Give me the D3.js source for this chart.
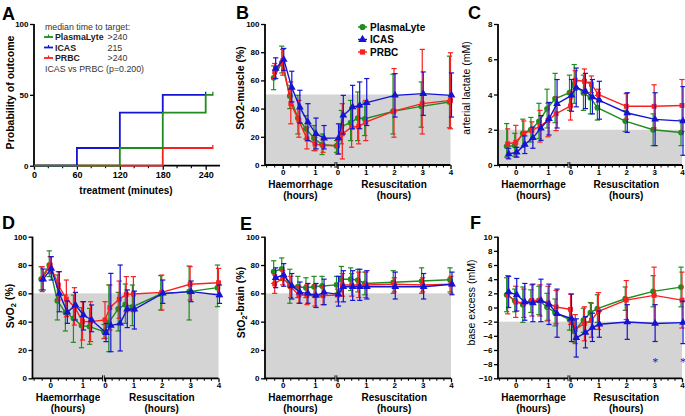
<!DOCTYPE html>
<html><head><meta charset="utf-8">
<script src="https://cdn.jsdelivr.net/npm/d3@7"></script>
<style>body{margin:0;background:#fff} svg{display:block;font-family:"Liberation Sans",Arial,sans-serif}</style>
</head><body><svg id="c" width="685" height="416"></svg>
<script>
// ---------------- DATA ----------------
const groups = ["PlasmaLyte", "ICAS", "PRBC"];
const haemTimes = [-0.25, 0, 0.25, 0.5, 0.75, 1, 1.25];
const resusTimes = [0, 0.17, 0.5, 0.75, 1, 2, 3, 4];
const haemTicks = [0, 1];
const resusTicks = [0, 1, 2, 3, 4];

// Panel A: Kaplan-Meier (treatment minutes vs probability %)
const km_PlasmaLyte_t = [0, 120, 180, 240, 250];
const km_PlasmaLyte_p = [0, 12.5, 37.5, 50, 50];
const km_ICAS_t = [0, 60, 120, 180, 240];
const km_ICAS_p = [0, 12.5, 37.5, 50, 50];
const km_PRBC_t = [0, 180, 250];
const km_PRBC_p = [0, 12.5, 12.5];
const medianTimes = [">240", "215", ">240"];
const kmXTicks = [0, 60, 120, 180, 240];
const kmYTicks = [0, 50, 100];

// Panel B: StO2-muscle (%)
const muscle_PlasmaLyte = [61.8, 72.4, 49, 33.3, 25.7, 19, 14.5, 13.5, 27.3, 30, 33.3, 32.8, 38, 41.6, 44.7];
const muscle_PlasmaLyte_lo = [53.4, 65.3, 40, 22, 18.5, 10.2, 7.4, 9, 15, 17.3, 17.3, 20.9, 22, 26.8, 26.4];
const muscle_PlasmaLyte_hi = [70.3, 84.3, 56.5, 49.4, 35, 28, 22, 17.3, 38.7, 45.8, 51.8, 44.7, 64.4, 58.9, 77.2];
const muscle_ICAS = [68.4, 74.8, 54.9, 40.9, 30.4, 22.1, 19, 19.2, 35.2, 41.1, 42.3, 44.2, 49.4, 50.6, 49.4];
const muscle_ICAS_lo = [61.3, 67.2, 44.7, 29.7, 17.3, 11.4, 11.4, 7.8, 22, 25.7, 25.7, 28, 34, 35.2, 34];
const muscle_ICAS_hi = [76, 82.7, 66.5, 53, 43.5, 33.3, 28, 29.2, 49.4, 56.5, 58.9, 61.3, 64.8, 66, 65.3];
const muscle_PRBC = [66, 73.9, 43.5, 31.6, 18.5, 15, 13.8, 13.8, 22.1, 26.8, 27.3, 30.4, 38.2, 43.5, 45.8];
const muscle_PRBC_lo = [61.3, 63.7, 29.2, 19.7, 11.4, 10.2, 9, 7.8, 4.3, 12.6, 15, 17.3, 19.7, 22, 25.7];
const muscle_PRBC_hi = [72, 82, 58.9, 45.8, 26.8, 19.7, 18.5, 17.3, 43.5, 41, 41, 45.8, 68.4, 82, 79.6];

// Panel C: arterial lactate (mM)
const lactate_PlasmaLyte = [1.06, 1.1, 1.8, 2.0, 2.47, 3.19, 3.76, 4.1, 4.6, 4.09, 3.82, 3.25, 2.49, 2.0, 1.84];
const lactate_PlasmaLyte_lo = [0.45, 0.5, 1.0, 1.3, 1.5, 2.1, 2.4, 3.1, 3.5, 3.1, 2.9, 2.55, 1.9, 1.1, 1.1];
const lactate_PlasmaLyte_hi = [2.35, 1.8, 2.6, 2.7, 3.5, 4.3, 5.2, 5.1, 5.7, 5.1, 4.7, 3.95, 3.1, 2.9, 2.55];
const lactate_ICAS = [0.63, 0.72, 1.16, 1.54, 2.09, 2.62, 3.48, 3.95, 4.39, 4.18, 3.86, 3.67, 2.95, 2.59, 2.49];
const lactate_ICAS_lo = [0.35, 0.45, 0.65, 0.95, 1.4, 1.7, 2.1, 3.05, 3.3, 3.2, 2.9, 2.6, 1.85, 1.1, 0.55];
const lactate_ICAS_hi = [0.95, 1.0, 1.65, 2.15, 2.8, 3.55, 4.85, 4.85, 5.5, 5.2, 4.85, 4.75, 4.1, 4.1, 4.45];
const lactate_PRBC = [1.2, 1.29, 1.8, 1.96, 2.19, 2.53, 2.91, 3.35, 4.81, 4.75, 4.58, 4.01, 3.33, 3.33, 3.38];
const lactate_PRBC_lo = [0.4, 0.45, 1.1, 1.45, 1.3, 1.6, 1.95, 2.55, 4.25, 4.05, 4.1, 3.7, 2.6, 2.1, 1.9];
const lactate_PRBC_hi = [2.05, 2.25, 2.5, 2.45, 3.1, 3.5, 3.85, 4.15, 5.35, 5.45, 5.05, 4.3, 4.05, 4.55, 4.85];

// Panel D: SvO2 (%)
const svo2_PlasmaLyte = [70.1, 80, 54.8, 46.6, 42.4, 37.2, 36.5, 33, 39.5, 49, 52.2, 50.4, 59.5, 61.2, 64];
const svo2_PlasmaLyte_lo = [62.4, 71.8, 41.2, 33.4, 25.4, 21.6, 24, 28, 18.8, 33.4, 38.8, 37.2, 48.2, 41.2, 50.6];
const svo2_PlasmaLyte_hi = [78.8, 90, 73, 58.8, 58.8, 49.9, 49.4, 38, 65.9, 60.7, 66.6, 65.9, 72.5, 79.3, 80];
const svo2_ICAS = [69.9, 77.6, 59.8, 46.6, 51.8, 44.7, 41.2, 32.2, 37.2, 38.8, 48.9, 48.7, 60, 61.2, 58.8];
const svo2_ICAS_lo = [62.4, 69.4, 47, 38.8, 41.2, 34.1, 32.9, 25.9, 18.8, 19.3, 35.8, 34.8, 52.9, 54.1, 52.9];
const svo2_ICAS_hi = [77.2, 85.9, 75.3, 54.6, 60.7, 54.1, 51.8, 38.8, 74.1, 80, 62.4, 61.6, 69.4, 68.7, 65.9];
const svo2_PRBC = [70.1, 80, 65.9, 56, 50.6, 40, 40, 41.2, 49.9, 55.8, 59.3, 59.5, 60.7, 66.4, 67.5];
const svo2_PRBC_lo = [61.2, 74.1, 55.3, 43.5, 37.6, 27, 25.9, 28.2, 34.1, 42.4, 47, 47, 48.2, 55.3, 57.6];
const svo2_PRBC_hi = [78.8, 85.9, 75.3, 69.4, 64, 54.1, 54.1, 54.1, 65.9, 68.7, 71.8, 71.8, 72.9, 78.8, 77.6];

// Panel E: StO2-brain (%)
const brain_PlasmaLyte = [75.3, 77.2, 65.2, 64.7, 64, 64.7, 65.2, 66, 70, 70, 69.4, 67, 67.8, 68.7, 69.6];
const brain_PlasmaLyte_lo = [67, 69, 53, 57, 57, 58, 58, 60, 61, 62, 61, 59, 60, 60, 61];
const brain_PlasmaLyte_hi = [83, 85, 77, 72, 71, 72, 72, 72, 79, 78, 77, 75, 76, 78, 78];
const brain_ICAS = [71, 73, 65.4, 60.7, 60, 58.4, 60.7, 59.3, 64.7, 64.7, 64.7, 64.7, 64.7, 64.7, 66.4];
const brain_ICAS_lo = [64, 65, 56, 53, 53, 50, 52, 51, 54, 55, 55, 56, 56, 56, 59];
const brain_ICAS_hi = [78, 81, 74, 68, 67, 67, 70, 72, 76, 76, 77, 76, 75, 74, 75];
const brain_PRBC = [66.6, 71, 64.7, 58.8, 58.8, 58.4, 58.4, 58.8, 65.9, 65.9, 65.9, 65.9, 66.4, 65.9, 66.4];
const brain_PRBC_lo = [60, 66, 57, 53, 52, 51, 52, 54, 58, 58, 57, 57, 61, 61, 60];
const brain_PRBC_hi = [73, 76, 72, 65, 66, 66, 65, 63, 74, 74, 75, 75, 71, 71, 72];

// Panel F: base excess (mM)
const be_PlasmaLyte = [1.8, 1.0, 0.4, 0.87, 1.0, 0.07, -0.73, -1.7, -3.35, -1.8, -0.73, -0.16, 1.24, 2.27, 2.88];
const be_PlasmaLyte_lo = [-0.6, -0.6, -2.1, -0.7, -1.0, -1.9, -2.6, -3.2, -4.9, -3.5, -2.1, -2.1, -0.4, 0.1, 0.1];
const be_PlasmaLyte_hi = [4.2, 2.6, 2.9, 2.5, 3.0, 2.0, 1.2, -0.2, -1.8, -0.1, 0.7, 1.8, 2.9, 4.5, 5.7];
const be_ICAS = [2.18, 1.8, 0.77, 0.63, 1.0, 0.44, -0.87, -1.57, -4.29, -3.54, -2.83, -2.37, -2.04, -2.27, -2.13];
const be_ICAS_lo = [0, -0.5, -1.8, -2.0, -2.0, -2.4, -4.2, -4.8, -7.0, -5.7, -4.8, -4.2, -4.5, -4.8, -5.1];
const be_ICAS_hi = [4.4, 4.1, 3.4, 3.3, 4.0, 3.3, 2.6, 1.9, -1.6, -1.3, -0.8, -0.5, 0.4, 0.4, 0.9];
const be_PRBC = [1.8, 0.77, 0.63, 1.0, 1.0, 0.63, 0.07, -0.26, -3.07, -2.27, -1.8, -0.54, 1.05, 1.71, 1.05];
const be_PRBC_lo = [-0.9, -1.4, -1.4, -1.2, -1.2, -1.8, -2.3, -2.4, -5.1, -4.7, -4.2, -3.1, -1.7, -2.3, -2.9];
const be_PRBC_hi = [4.5, 3.0, 2.6, 3.2, 3.2, 3.0, 2.4, 1.9, -1.0, 0.1, 0.6, 2.1, 3.8, 5.7, 5.0];
const be_sigTimes = [3, 4];
const be_sigLevel = -7.1;

// ---------------- STYLE ----------------
const colors = { PlasmaLyte: "#1e8c1e", ICAS: "#1414d2", PRBC: "#fa2020" };
const symbols = { PlasmaLyte: d3.symbolCircle, ICAS: d3.symbolTriangle, PRBC: d3.symbolSquare };
const symSize = { PlasmaLyte: 26, ICAS: 26, PRBC: 24 };
const dodge = { PlasmaLyte: -1, ICAS: 1, PRBC: 0 };
const drawOrder = ["PlasmaLyte", "PRBC", "ICAS"];
const GREY = "#d4d4d4";
const FONT = '"Liberation Sans",Arial,sans-serif';

const svg = d3.select("#c");

function letter(t, x, y) {
  svg.append("text").attr("x", x).attr("y", y).attr("font-size", 18).attr("font-weight", "bold").text(t);
}

function yLabel(parts, x, y, bold) {
  const t = svg.append("text").attr("transform", `translate(${x},${y}) rotate(-90)`)
    .attr("text-anchor", "middle").attr("dy", "0.35em").attr("font-size", 10.5)
    .attr("font-weight", bold ? "bold" : "normal");
  parts.forEach(p => {
    const ts = t.append("tspan").text(p.t);
    if (p.sub) ts.attr("dy", "0.3em").attr("font-size", 7.5);
    else if (p.after) ts.attr("dy", "-0.3em");
  });
}

function yAxis(g, y, L, ticks) {
  const ax = d3.axisLeft(y).tickValues(ticks).tickSize(4).tickPadding(1.5).tickFormat(d3.format("d"));
  const a = g.append("g").attr("transform", `translate(${L},0)`).call(ax);
  a.select(".domain").attr("stroke-width", 1.8).attr("d", `M0,${y.range()[0] + 0.9}V${y.range()[1]}`);
  a.selectAll(".tick line").attr("stroke-width", 1.3);
  a.selectAll(".tick text").attr("font-size", 8).attr("font-weight", "bold").attr("font-family", FONT);
}

// ---------------- PANEL A ----------------
(function panelA() {
  const L = 34, R = 220, T = 24, B = 165.7;
  const x = d3.scaleLinear().domain([0, 260]).range([L, R]);
  const y = d3.scaleLinear().domain([0, 100]).range([B, T]);
  const g = svg.append("g");
  const ax = d3.axisBottom(x).tickValues(kmXTicks).tickSize(4).tickPadding(2).tickFormat(d3.format("d"));
  const a = g.append("g").attr("transform", `translate(0,${B})`).call(ax);
  a.select(".domain").attr("stroke-width", 1.8).attr("d", `M${L},0H${R}`);
  a.selectAll(".tick line").attr("stroke-width", 1.3);
  a.selectAll(".tick text").attr("font-size", 9).attr("font-weight", "bold").attr("font-family", FONT);
  g.append("g").selectAll("line").data(d3.range(20, 260, 20).filter(v => v % 60 !== 0)).join("line")
    .attr("x1", d => x(d)).attr("x2", d => x(d)).attr("y1", B).attr("y2", B + 2.5)
    .attr("stroke", "#000").attr("stroke-width", 1.1);
  yAxis(g, y, L, kmYTicks);

  const series = {
    PlasmaLyte: [km_PlasmaLyte_t, km_PlasmaLyte_p],
    ICAS: [km_ICAS_t, km_ICAS_p],
    PRBC: [km_PRBC_t, km_PRBC_p]
  };
  const line = d3.line().x(d => x(d[0])).y(d => y(d[1])).curve(d3.curveStepAfter);
  ["PRBC", "ICAS", "PlasmaLyte"].forEach(k => {
    const [ts, ps] = series[k];
    const pts = ts.map((t, i) => [t, ps[i]]);
    g.append("path").attr("d", line(pts)).attr("fill", "none")
      .attr("stroke", colors[k]).attr("stroke-width", 1.8);
    const last = pts[pts.length - 1];
    g.append("line").attr("x1", x(last[0])).attr("x2", x(last[0]))
      .attr("y1", y(last[1]) - 3).attr("y2", y(last[1]) + 1)
      .attr("stroke", colors[k]).attr("stroke-width", 1.3);
  });

  // legend
  const fs = 8.8;
  g.append("text").attr("x", 45).attr("y", 26.5).attr("dy", "0.35em").attr("font-size", fs)
    .attr("fill", "#333").text("median time to target:");
  groups.forEach((k, i) => {
    const yy = 37 + i * 10.5;
    g.append("line").attr("x1", 44).attr("x2", 53).attr("y1", yy).attr("y2", yy)
      .attr("stroke", colors[k]).attr("stroke-width", 1.8);
    g.append("line").attr("x1", 48.5).attr("x2", 48.5).attr("y1", yy - 2.5).attr("y2", yy)
      .attr("stroke", colors[k]).attr("stroke-width", 1.2);
    g.append("text").attr("x", 55).attr("y", yy).attr("dy", "0.35em").attr("font-size", fs)
      .attr("font-weight", "bold").attr("fill", "#222").text(k);
    g.append("text").attr("x", 107.5).attr("y", yy).attr("dy", "0.35em").attr("font-size", fs)
      .attr("fill", "#333").text(medianTimes[i]);
  });
  g.append("text").attr("x", 45).attr("y", 69).attr("dy", "0.35em").attr("font-size", fs)
    .attr("fill", "#333").text("ICAS vs PRBC (p=0.200)");

  g.append("text").attr("x", 126).attr("y", 194).attr("text-anchor", "middle")
    .attr("font-size", 10).attr("font-weight", "bold").text("treatment (minutes)");
  yLabel([{ t: "Probability of outcome" }], 10.5, 92.5, true);
  letter("A", 2, 20);
})();

// ---------------- TIME-COURSE PANELS ----------------
function timePanel(cfg) {
  const { L, R, T, B } = cfg;
  const g = svg.append("g");
  const hx = d3.scaleLinear().domain([-0.55, 1.62]).range([L, L + 70]);
  const rx = d3.scaleLinear().domain([0, 4]).range([L + 72.5, R]);
  const y = d3.scaleLinear().domain(cfg.yDomain).range([B, T]);
  const xOf = i => i < haemTimes.length ? hx(haemTimes[i]) : rx(resusTimes[i - haemTimes.length]);

  g.append("rect").attr("x", L + 1).attr("y", y(cfg.threshold)).attr("width", R - L - 1)
    .attr("height", B - y(cfg.threshold)).attr("fill", GREY);

  const axH = d3.axisBottom(hx).tickValues(haemTicks).tickSize(4).tickPadding(0.5).tickFormat(d3.format("d"));
  const axR = d3.axisBottom(rx).tickValues(resusTicks).tickSize(4).tickPadding(0.5).tickFormat(d3.format("d"));
  [[axH, L, L + 70], [axR, L + 71.5, R]].forEach(([ax, a0, a1]) => {
    const a = g.append("g").attr("transform", `translate(0,${B})`).call(ax);
    a.select(".domain").attr("stroke-width", 1.8).attr("d", `M${a0},0H${a1}`);
    a.selectAll(".tick line").attr("stroke-width", 1.3);
    a.selectAll(".tick text").attr("font-size", 8).attr("font-weight", "bold").attr("font-family", FONT);
  });
  const minorH = d3.range(-0.5, 1.51, 0.25).filter(v => !haemTicks.includes(v));
  const minorR = d3.range(0.25, 4, 0.25).filter(v => !resusTicks.includes(v));
  g.append("g").selectAll("line").data(minorH.map(hx).concat(minorR.map(rx))).join("line")
    .attr("x1", d => d).attr("x2", d => d).attr("y1", B).attr("y2", B + 2.5)
    .attr("stroke", "#000").attr("stroke-width", 1);
  [L + 70, L + 71.8].forEach(xx => g.append("line").attr("x1", xx).attr("x2", xx)
    .attr("y1", B - 3).attr("y2", B + 3).attr("stroke", "#000").attr("stroke-width", 0.9));

  yAxis(g, y, L, cfg.yTicks);

  drawOrder.forEach(k => {
    const m = cfg.mean[k], lo = cfg.lo[k], hi = cfg.hi[k];
    const pts = m.map((v, i) => ({ x: xOf(i) + dodge[k], y: y(v), lo: y(lo[i]), hi: y(hi[i]) }));
    const sg = g.append("g");
    sg.selectAll("line.eb").data(pts).join("line").attr("class", "eb")
      .attr("x1", d => d.x).attr("x2", d => d.x).attr("y1", d => d.lo).attr("y2", d => d.hi)
      .attr("stroke", colors[k]).attr("stroke-width", 1.2);
    sg.selectAll("line.cap").data(pts.flatMap(d => [d.lo, d.hi].map(v => ({ x: d.x, v })))).join("line")
      .attr("class", "cap").attr("x1", d => d.x - 2.6).attr("x2", d => d.x + 2.6)
      .attr("y1", d => d.v).attr("y2", d => d.v).attr("stroke", colors[k]).attr("stroke-width", 1.2);
    sg.append("path").attr("d", d3.line().x(d => d.x).y(d => d.y)(pts))
      .attr("fill", "none").attr("stroke", colors[k]).attr("stroke-width", 1.4);
    sg.selectAll("path.mk").data(pts).join("path").attr("class", "mk")
      .attr("transform", d => `translate(${d.x},${d.y})`)
      .attr("d", d3.symbol(symbols[k], symSize[k])).attr("fill", colors[k]);
  });

  if (cfg.sig) {
    cfg.sig.times.forEach(t => g.append("text").attr("x", rx(t) + dodge.ICAS).attr("y", y(cfg.sig.level))
      .attr("dy", "0.7em").attr("text-anchor", "middle").attr("font-size", 12)
      .attr("font-family", "'Liberation Serif','DejaVu Serif',serif").attr("fill", colors.ICAS).text("*"));
  }

  [["Haemorrhage", hx(0.55)], ["Resuscitation", rx(2.0)]].forEach(([t, xx]) => {
    g.append("text").attr("x", xx).attr("y", B + 22.5).attr("text-anchor", "middle")
      .attr("font-size", 10).attr("font-weight", "bold").text(t);
    g.append("text").attr("x", xx).attr("y", B + 33.5).attr("text-anchor", "middle")
      .attr("font-size", 10).attr("font-weight", "bold").text("(hours)");
  });
  yLabel(cfg.label, cfg.lx, cfg.ly, cfg.labelBold);
  letter(cfg.letter, cfg.letterX, cfg.letterY);
  return { g, hx, rx, y };
}

const pick = (a, b, c) => ({ PlasmaLyte: a, ICAS: b, PRBC: c });

const pB = timePanel({
  L: 265, R: 450.5, T: 24, B: 165, yDomain: [0, 100], yTicks: [0, 20, 40, 60, 80, 100], threshold: 50,
  mean: pick(muscle_PlasmaLyte, muscle_ICAS, muscle_PRBC),
  lo: pick(muscle_PlasmaLyte_lo, muscle_ICAS_lo, muscle_PRBC_lo),
  hi: pick(muscle_PlasmaLyte_hi, muscle_ICAS_hi, muscle_PRBC_hi),
  label: [{ t: "StO2-muscle (%)" }], lx: 240, ly: 88, labelBold: true,
  letter: "B", letterX: 236, letterY: 18.5
});
groups.forEach((k, i) => {
  const yy = 27 + i * 12.5;
  pB.g.append("line").attr("x1", 358).attr("x2", 367).attr("y1", yy).attr("y2", yy)
    .attr("stroke", colors[k]).attr("stroke-width", 1.4);
  pB.g.append("path").attr("transform", `translate(362.5,${yy})`)
    .attr("d", d3.symbol(symbols[k], symSize[k] + 4)).attr("fill", colors[k]);
  pB.g.append("text").attr("x", 370).attr("y", yy).attr("dy", "0.35em").attr("font-size", 10)
    .attr("font-weight", "bold").text(k);
});

timePanel({
  L: 498, R: 682, T: 24, B: 165, yDomain: [0, 8], yTicks: [0, 2, 4, 6, 8], threshold: 2,
  mean: pick(lactate_PlasmaLyte, lactate_ICAS, lactate_PRBC),
  lo: pick(lactate_PlasmaLyte_lo, lactate_ICAS_lo, lactate_PRBC_lo),
  hi: pick(lactate_PlasmaLyte_hi, lactate_ICAS_hi, lactate_PRBC_hi),
  label: [{ t: "arterial lactate (mM)" }], lx: 466.5, ly: 88, labelBold: false,
  letter: "C", letterX: 468, letterY: 18.5
});

timePanel({
  L: 32.5, R: 218.5, T: 236.7, B: 378.3, yDomain: [0, 100], yTicks: [0, 20, 40, 60, 80, 100], threshold: 60,
  mean: pick(svo2_PlasmaLyte, svo2_ICAS, svo2_PRBC),
  lo: pick(svo2_PlasmaLyte_lo, svo2_ICAS_lo, svo2_PRBC_lo),
  hi: pick(svo2_PlasmaLyte_hi, svo2_ICAS_hi, svo2_PRBC_hi),
  label: [{ t: "SvO" }, { t: "2", sub: true }, { t: " (%)", after: true }], lx: 10.5, ly: 306, labelBold: true,
  letter: "D", letterX: 2, letterY: 229
});

timePanel({
  L: 265, R: 451, T: 236.7, B: 378.3, yDomain: [0, 100], yTicks: [0, 20, 40, 60, 80, 100], threshold: 60,
  mean: pick(brain_PlasmaLyte, brain_ICAS, brain_PRBC),
  lo: pick(brain_PlasmaLyte_lo, brain_ICAS_lo, brain_PRBC_lo),
  hi: pick(brain_PlasmaLyte_hi, brain_ICAS_hi, brain_PRBC_hi),
  label: [{ t: "StO" }, { t: "2", sub: true }, { t: "-brain (%)", after: true }], lx: 241.5, ly: 302.5, labelBold: true,
  letter: "E", letterX: 240, letterY: 230
});

timePanel({
  L: 498, R: 682, T: 236.7, B: 378.3, yDomain: [-10, 10], yTicks: d3.range(-10, 11, 2), threshold: -2,
  mean: pick(be_PlasmaLyte, be_ICAS, be_PRBC),
  lo: pick(be_PlasmaLyte_lo, be_ICAS_lo, be_PRBC_lo),
  hi: pick(be_PlasmaLyte_hi, be_ICAS_hi, be_PRBC_hi),
  label: [{ t: "base excess (mM)" }], lx: 471.5, ly: 302.5, labelBold: false,
  letter: "F", letterX: 470, letterY: 229,
  sig: { times: be_sigTimes, level: be_sigLevel }
});
</script></body></html>
